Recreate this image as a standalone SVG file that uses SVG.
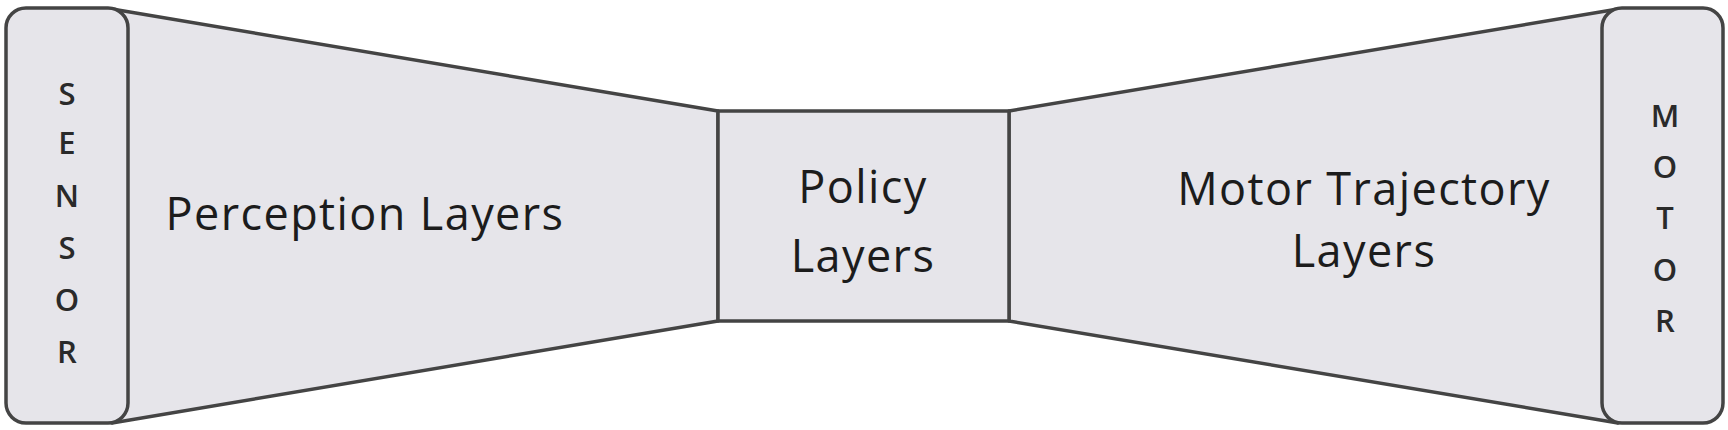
<svg xmlns="http://www.w3.org/2000/svg" width="1728" height="430" viewBox="0 0 1728 430">
<style>
.shape{fill:#e6e5ea;stroke:#444;stroke-width:3.5;stroke-linejoin:round}
.lbl{font-family:"Open Sans","Noto Sans",sans-serif;font-size:45px;font-weight:500;fill:#1c1c1c;text-anchor:middle;letter-spacing:1.4px}
.vl{font-family:"Open Sans","Noto Sans",sans-serif;font-size:31px;font-weight:600;fill:#2a2a2a;text-anchor:middle}
</style>
<rect width="1728" height="430" fill="#ffffff"/>
<g id="perception">
<polygon class="shape" points="112,9 718,111 718,321 112,423"/>
<text class="lbl" x="365" y="230">Perception Layers</text>
</g>
<g id="motor-trajectory">
<polygon class="shape" points="1009,111 1618,9 1618,423 1009,321"/>
<text class="lbl" x="1364" y="205">Motor Trajectory</text>
<text class="lbl" x="1364" y="267">Layers</text>
</g>
<g id="policy">
<rect class="shape" x="718" y="111" width="291" height="210"/>
<text class="lbl" x="863" y="203">Policy</text>
<text class="lbl" x="863" y="272">Layers</text>
</g>
<g id="sensor">
<rect class="shape" x="6" y="8" width="122" height="415" rx="20" ry="20"/>
<text class="vl" x="67" y="105">S</text>
<text class="vl" x="67" y="154">E</text>
<text class="vl" x="67" y="207">N</text>
<text class="vl" x="67" y="259">S</text>
<text class="vl" x="67" y="311">O</text>
<text class="vl" x="67" y="363">R</text>
</g>
<g id="motor">
<rect class="shape" x="1602" y="8" width="121" height="415" rx="20" ry="20"/>
<text class="vl" x="1665" y="127">M</text>
<text class="vl" x="1665" y="178">O</text>
<text class="vl" x="1665" y="229">T</text>
<text class="vl" x="1665" y="281">O</text>
<text class="vl" x="1665" y="332">R</text>
</g>
<g id="connectors"></g>
</svg>
